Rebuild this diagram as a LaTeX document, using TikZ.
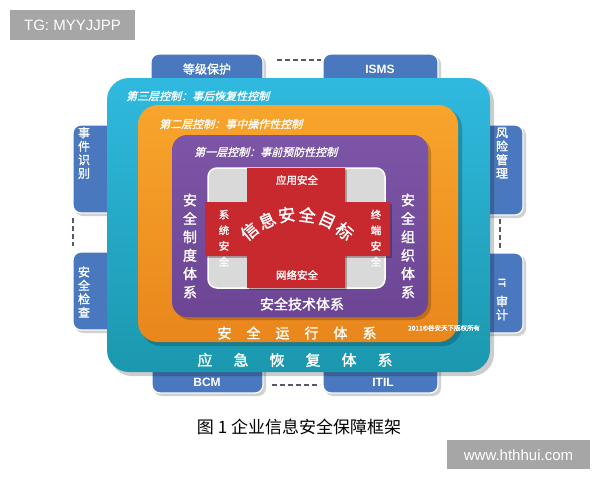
\documentclass[tikz,border=0pt]{standalone}
\usepackage{fontspec}
\setmainfont{Liberation Sans}
\newfontfamily\cjk{Noto Sans CJK SC}
\newfontfamily\cjkb[FakeBold=1.5]{Noto Sans CJK SC}
\newfontfamily\cjki[FakeSlant=0.25,FakeBold=1.2]{Noto Sans CJK SC}
\usetikzlibrary{calc}
\definecolor{tabblue}{HTML}{4A78BE}
\definecolor{cyantop}{HTML}{30B9DF}
\definecolor{cyanbot}{HTML}{1B98AE}
\definecolor{orgtop}{HTML}{F8A52C}
\definecolor{orgbot}{HTML}{E9861C}
\definecolor{purp}{HTML}{7D55A6}
\definecolor{purpbot}{HTML}{6C4594}
\definecolor{crossred}{HTML}{C8292E}
\definecolor{cornergray}{HTML}{D9D9D9}
\definecolor{wmgray}{HTML}{A6A6A6}
\definecolor{dashgray}{HTML}{555A66}
\begin{document}
\begin{tikzpicture}[x=1pt,y=-1pt,
  tabbox/.style={fill=tabblue, draw=white, line width=1.2pt, rounded corners=8pt},
  tabshadow/.style={fill=black, opacity=0.18, rounded corners=8pt},
  dashlink/.style={draw=dashgray, line width=2pt, dash pattern=on 5pt off 3pt},
  wt/.style={text=white, inner sep=0pt},
  tabtxt/.style={wt, font=\cjkb\fontsize{12}{13}\selectfont},
  vtab/.style={wt, align=center, font=\cjkb\fontsize{12}{13.5}\selectfont},
  layertitle/.style={wt, anchor=west, font=\cjki\fontsize{11}{11}\selectfont},
  vside/.style={wt, align=center, font=\cjkb\fontsize{14}{18.4}\selectfont},
  vsmall/.style={wt, align=center, font=\cjkb\fontsize{10.5}{15.7}\selectfont},
  crosstxt/.style={wt, font=\cjkb\fontsize{10.5}{11}\selectfont},
  arctxt/.style={wt, font=\cjkb\fontsize{17}{17}\selectfont}
]
\useasboundingbox (0,0) rectangle (600,480);
\fill[white] (0,0) rectangle (600,480);

% watermark top-left
\fill[wmgray] (10,10) rectangle (135,40);
\node[wt, font=\fontsize{15}{15}\selectfont] (tg) at (72.5,25) {TG: MYYJJPP};

% ---------- outer tabs ----------
% top
\fill[tabshadow] (153,56) rectangle (266,100);
\fill[tabshadow] (325,56) rectangle (441,100);
\path[tabbox] (151,54) rectangle (263,100);
\path[tabbox] (323,54) rectangle (438,100);
\node[tabtxt] (dengji) at (207,69) {等级保护};
\node[wt, font=\bfseries\fontsize{12}{13}\selectfont] (isms) at (380,69) {ISMS};
\coordinate (tdl) at (277,60); \coordinate (tdr) at (321,60);
\draw[dashlink] (tdl) -- (tdr);
% bottom
\fill[tabshadow] (154,352) rectangle (266,396);
\fill[tabshadow] (325,352) rectangle (441,396);
\path[tabbox] (152,350) rectangle (263,393);
\path[tabbox] (323,350) rectangle (438,393);
\node[wt, font=\bfseries\fontsize{12}{13}\selectfont] (bcm) at (207,382) {BCM};
\node[wt, font=\bfseries\fontsize{12}{13}\selectfont] (itil) at (383,382) {ITIL};
\coordinate (bdl) at (272,385); \coordinate (bdr) at (320,385);
\draw[dashlink] (bdl) -- (bdr);
% left
\fill[tabshadow] (75,127) rectangle (120,216);
\fill[tabshadow] (75,254) rectangle (120,333);
\path[tabbox] (73,125) rectangle (120,213);
\path[tabbox] (73,252) rectangle (120,330);
\node[vtab] (shijian) at (84,153) {事\\件\\识\\别};
\node[vtab] (jiancha) at (84,292) {安\\全\\检\\查};
\coordinate (ldt) at (73,218); \coordinate (ldb) at (73,246);
\draw[dashlink] (ldt) -- (ldb);
% right
\fill[tabshadow] (480,127) rectangle (526,218);
\fill[tabshadow] (480,255) rectangle (526,336);
\path[tabbox] (478,125) rectangle (523,215);
\path[tabbox] (478,253) rectangle (523,333);
\node[vtab] (fengxian) at (502,153) {风\\险\\管\\理};
\node[wt, rotate=-90, font=\bfseries\fontsize{10}{10}\selectfont] (it) at (502,283) {IT};
\node[vtab] (shenji) at (502,308) {审\\计};
\coordinate (rdt) at (500,219); \coordinate (rdb) at (500,249);
\draw[dashlink] (rdt) -- (rdb);

% ---------- layer 3 (cyan) ----------
\fill[black, opacity=0.2, rounded corners=22pt] (110,81) rectangle (494,376);
\shade[top color=cyantop, bottom color=cyanbot, rounded corners=22pt] (107,78) rectangle (490,372);
\node[layertitle] (l3) at (126,96) {第三层控制：事后恢复性控制};
\node[wt, font=\cjkb\fontsize{15}{15}\selectfont] (yingji) at (295,360) {应\hspace{21pt}急\hspace{21pt}恢\hspace{21pt}复\hspace{21pt}体\hspace{21pt}系};

% ---------- layer 2 (orange) ----------
\fill[black, opacity=0.2, rounded corners=20pt] (141,108) rectangle (462,346);
\shade[top color=orgtop, bottom color=orgbot, rounded corners=20pt] (138,105) rectangle (458,342);
\node[layertitle] (l2) at (159,124) {第二层控制：事中操作性控制};
\node[wt, font=\cjkb\fontsize{14}{14}\selectfont] (yunxing) at (297,333) {安\hspace{15pt}全\hspace{15pt}运\hspace{15pt}行\hspace{15pt}体\hspace{15pt}系};
\node[wt, font=\cjkb\fontsize{6.5}{7}\selectfont, anchor=west] (copy) at (408,328) {2011©谷安天下版权所有};

% ---------- layer 1 (purple) ----------
\fill[black, opacity=0.2, rounded corners=15pt] (175,138) rectangle (431,320);
\shade[top color=purp, bottom color=purpbot, rounded corners=15pt] (172,135) rectangle (428,317);
\node[layertitle] (l1) at (194,152) {第一层控制：事前预防性控制};
\node[vside] (zhidu) at (190,246) {安\\全\\制\\度\\体\\系};
\node[vside] (zuzhi) at (408,246) {安\\全\\组\\织\\体\\系};
\node[wt, font=\cjkb\fontsize{14}{14}\selectfont] (jishu) at (302,304) {安全技术体系};

% ---------- core ----------
\fill[cornergray, draw=white, line width=1.5pt, rounded corners=9pt] (208,168) rectangle (385,288);
\draw[white, line width=1.5pt] (296,168) -- (296,288) (208,229) -- (385,229);
\fill[black, opacity=0.25] (249,170) rectangle (347,290);
\fill[black, opacity=0.25] (207,204) rectangle (392,258);
\fill[crossred] (247,168) -- (345,168) -- (345,202) -- (390,202) -- (390,256) -- (345,256)
   -- (345,288) -- (247,288) -- (247,256) -- (205,256) -- (205,202) -- (247,202) -- cycle;
\node[crosstxt] (yingyong) at (297,180) {应用安全};
\node[crosstxt] (wangluo) at (297,275) {网络安全};
\node[vsmall] (xitong) at (224,238) {系\\统\\安\\全};
\node[vsmall] (zhongduan) at (376,238) {终\\端\\安\\全};
% arced title
\foreach \ch/\a [count=\i] in {信/-40,息/-24,安/-8,全/8,目/24,标/40}{
  \node[rotate=-\a, arctxt] (arc\i) at ({297+74*sin(\a)},{288-74*cos(\a)}) {\ch};
}

% caption
\node[inner sep=0pt, font=\cjk\fontsize{17}{17}\selectfont] (cap) at (299,427) {图 1 企业信息安全保障框架};

% watermark bottom-right
\fill[wmgray] (447,440) rectangle (590,469);
\node[wt, font=\fontsize{15}{15}\selectfont] (www) at (518.5,455) {www.hthhui.com};
\end{tikzpicture}
\end{document}
